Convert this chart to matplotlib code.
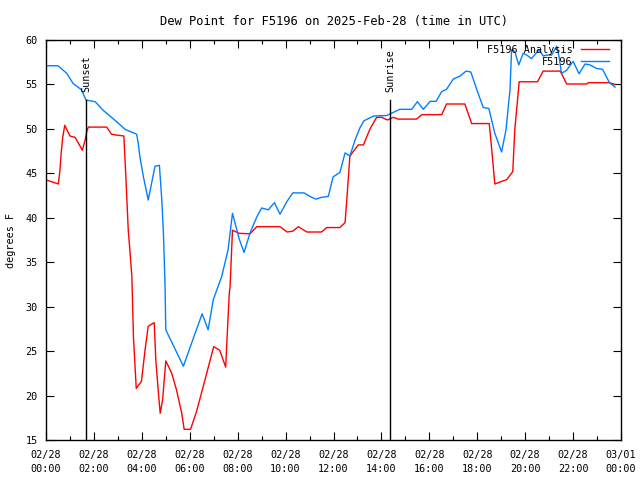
import numpy as np
import pandas as pd
import matplotlib
matplotlib.use('Agg')
import matplotlib.pyplot as plt
import matplotlib.dates as mdates

# F5196 observaciones (hora UTC, punto de rocio F)
obs_times = ['00:00', '00:30', '00:52', '01:08', '01:29', '01:40', '02:03', '02:23',
             '02:57', '03:18', '03:47', '03:51', '03:55', '04:04', '04:16', '04:33',
             '04:44', '04:50', '04:54', '04:58', '05:00', '05:44', '06:31', '06:46',
             '06:59', '07:20', '07:36', '07:47', '08:04', '08:16', '08:31', '08:48',
             '09:00', '09:17', '09:32', '09:46', '10:03', '10:18', '10:46', '11:01',
             '11:16', '11:30', '11:47', '11:59', '12:16', '12:29', '12:41', '12:54',
             '13:06', '13:16', '13:40', '14:13', '14:46', '15:16', '15:30', '15:45',
             '16:02', '16:17', '16:31', '16:43', '17:00', '17:17', '17:32', '17:44',
             '17:59', '18:15', '18:29', '18:44', '19:01', '19:12', '19:22', '19:26',
             '19:34', '19:44', '19:55', '20:04', '20:16', '20:25', '20:35', '20:45',
             '20:54', '21:06', '21:19', '21:25', '21:31', '21:44', '22:00', '22:15',
             '22:30', '22:42', '22:59', '23:14', '23:31', '23:45']
obs_dewp = [57.1, 57.1, 56.25, 55.1, 54.4, 53.25, 53.06, 52.1,
            50.8, 49.95, 49.4, 48.4, 46.9, 44.6, 42.0, 45.8,
            45.9, 42.0, 38.3, 32.7, 27.4, 23.3, 29.2, 27.4,
            30.8, 33.4, 36.4, 40.5, 37.6, 36.1, 38.3, 40.1,
            41.1, 40.9, 41.7, 40.4, 41.8, 42.8, 42.8, 42.4,
            42.1, 42.3, 42.4, 44.6, 45.1, 47.3, 46.95, 48.75,
            50.1, 50.9, 51.45, 51.5, 52.2, 52.2, 53.06, 52.2,
            53.1, 53.1, 54.2, 54.45, 55.6, 55.95, 56.5, 56.4,
            54.4, 52.4, 52.3, 49.5, 47.4, 49.9, 54.4, 58.9,
            58.7, 57.2, 58.5, 58.3, 57.9, 58.4, 58.9, 58.2,
            58.3, 58.3, 59.3, 58.1, 56.25, 56.6, 57.6, 56.2,
            57.3, 57.2, 56.8, 56.7, 55.2, 54.7]

# F5196 analisis
ana_times = ['00:00', '00:14', '00:31', '00:35', '00:38', '00:42', '00:47', '01:00',
             '01:13', '01:31', '01:38', '01:42', '01:46', '02:32', '02:44', '02:57',
             '03:15', '03:20', '03:26', '03:30', '03:35', '03:39', '03:46', '03:59',
             '04:08', '04:16', '04:31', '04:35', '04:41', '04:46', '04:52', '05:00',
             '05:15', '05:27', '05:40', '05:46', '06:02', '06:17', '06:38', '07:00',
             '07:15', '07:30', '07:34', '07:39', '07:41', '07:47', '08:04', '08:31',
             '08:48', '09:46', '10:04', '10:18', '10:32', '10:53', '11:30', '11:43',
             '12:16', '12:29', '12:35', '12:41', '12:46', '13:02', '13:15', '13:31',
             '13:48', '14:01', '14:15', '14:30', '14:42', '15:28', '15:41', '16:31',
             '16:43', '17:29', '17:46', '18:30', '18:36', '18:44', '19:14', '19:29',
             '19:34', '19:45', '20:31', '20:45', '21:28', '21:44', '22:34', '22:38',
             '23:31', '23:45']
ana_dewp = [44.25, 44.06, 43.8, 45.4, 47.3, 49.1, 50.4, 49.2,
            49.05, 47.6, 48.75, 49.7, 50.2, 50.2, 49.4, 49.3,
            49.2, 44.6, 38.6, 36.4, 33.4, 26.6, 20.8, 21.6,
            25.1, 27.8, 28.2, 24.0, 20.6, 18.0, 19.5, 23.9,
            22.5, 20.6, 18.0, 16.2, 16.2, 18.2, 21.75, 25.5,
            25.1, 23.2, 27.0, 31.5, 32.25, 38.6, 38.25, 38.2,
            39.0, 39.0, 38.4, 38.5, 39.0, 38.4, 38.4, 38.9,
            38.9, 39.45, 43.1, 46.9, 47.25, 48.2, 48.2, 49.95,
            51.3, 51.3, 51.0, 51.3, 51.1, 51.1, 51.6, 51.6,
            52.8, 52.8, 50.6, 50.6, 47.8, 43.8, 44.3, 45.2,
            49.9, 55.3, 55.3, 56.5, 56.5, 55.05, 55.05, 55.2,
            55.2, 55.0]

sun_events = ['Sunset', 'Sunrise']
sun_times = ['01:40', '14:22']

dia = '2025-02-28 '
t_obs = pd.to_datetime([dia + t for t in obs_times])
t_ana = pd.to_datetime([dia + t for t in ana_times])
t_sun = pd.to_datetime([dia + t for t in sun_times])

plt.rcParams['font.family'] = 'DejaVu Sans Mono'
plt.rcParams['font.size'] = 7.3

fig = plt.figure(figsize=(6.4, 4.8), dpi=100)
ax = fig.add_axes([46 / 640, 40 / 480, 575 / 640, 400 / 480])

ax.plot(t_ana, ana_dewp, color='#ff0000', lw=1.0, label='F5196 Analysis')
ax.plot(t_obs, obs_dewp, color='#0080ff', lw=1.0, label='F5196')

for nombre, t in zip(sun_events, t_sun):
    ax.plot([t, t], [15, 53.25], color='black', lw=1.0)
    ax.text(t, 54.1, nombre, rotation=90, ha='center', va='bottom')

ax.set_xlim(pd.Timestamp('2025-02-28 00:00'), pd.Timestamp('2025-03-01 00:00'))
ax.set_ylim(15, 60)
ax.set_yticks(np.arange(15, 61, 5))

ax.xaxis.set_major_locator(mdates.HourLocator(byhour=range(0, 24, 2)))
ax.xaxis.set_minor_locator(mdates.HourLocator())
ax.xaxis.set_major_formatter(mdates.DateFormatter('%m/%d\n%H:%M'))

ax.tick_params(which='both', direction='in', top=True, right=True, width=0.8)
ax.tick_params(which='major', length=6, pad=6)
ax.tick_params(axis='x', which='major', pad=7.5)
ax.tick_params(which='minor', length=3)
for s in ax.spines.values():
    s.set_linewidth(1.0)

fig.canvas.draw()
for lbl in ax.get_xticklabels():
    lbl.set_linespacing(1.45)

ax.set_title('Dew Point for F5196 on 2025-Feb-28 (time in UTC)', pad=11)
ax.set_ylabel('degrees F', labelpad=7)

ax.legend(loc='upper right', bbox_to_anchor=(0.979, 0.9875), frameon=False,
          markerfirst=False, handlelength=2.8, borderaxespad=0, borderpad=0,
          labelspacing=0.15, handletextpad=0.8)

fig.savefig('out.png', dpi=100)
